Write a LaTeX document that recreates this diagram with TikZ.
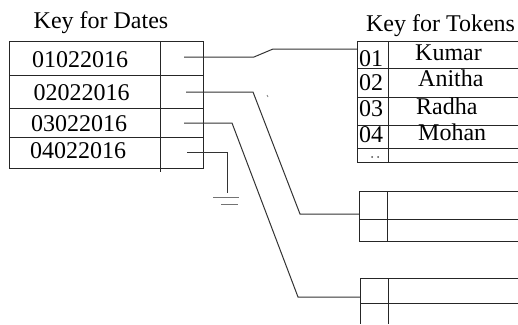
\documentclass[tikz,border=0pt]{standalone}
\usepackage{fontspec}
\setmainfont{Liberation Serif}
\begin{document}
\begin{tikzpicture}[x=1pt,y=-1pt,
  rule/.style={draw=black!85,line width=1pt},
  wire/.style={draw=black!80,line width=1pt},
  txt/.style={inner sep=0pt,anchor=base,font=\fontsize{24}{24}\selectfont},
  txtw/.style={inner sep=0pt,anchor=base west,font=\fontsize{24}{24}\selectfont}]
\useasboundingbox (0,0) rectangle (518,324);

% ---- date index table ----
\node[txt] (hd) at (101,28) {Key for Dates};
\draw[rule] (9,41) rectangle (203,168);
\draw[rule] (9,75) -- (203,75) (9,108) -- (203,108) (9,137) -- (203,137);
\draw[rule] (160,41) -- (160,172);
\node[txt] (d1) at (80,67) {01022016};
\node[txt] (d2) at (81.5,100) {02022016};
\node[txt] (d3) at (79,131) {03022016};
\node[txt] (d4) at (78,158) {04022016};
\coordinate (p1) at (184,57);
\coordinate (p2) at (186,92);
\coordinate (p3) at (184,123);
\coordinate (p4) at (187,152);

% ---- token index table ----
\node[txt] (ht) at (440.5,31) {Key for Tokens};
\draw[rule] (518,41) -- (357,41) -- (357,162) -- (518,162);
\draw[rule] (357,68) -- (518,68) (357,97) -- (518,97) (357,125) -- (518,125) (357,148) -- (518,148);
\draw[rule] (388,41) -- (388,162);
\node[txtw] (k1) at (359,66) {01};
\node[txtw] (k2) at (359,90.7) {02};
\node[txtw] (k3) at (359,116.7) {03};
\node[txtw] (k4) at (359,142.3) {04};
\node[txtw] (n1) at (415,60) {Kumar};
\node[txtw] (n2) at (418,86.7) {Anitha};
\node[txtw] (n3) at (416,114) {Radha};
\node[txtw] (n4) at (418,140) {Mohan};
\fill[black!70] (372,157) circle (1pt) (378,157) circle (1pt);
\coordinate (t1) at (357,49);

% ---- bucket blocks ----
\draw[rule] (518,191) -- (359,191) -- (359,241) -- (518,241);
\draw[rule] (359,219) -- (518,219) (387,191) -- (387,241);
\coordinate (b2) at (359,214);
\draw[rule] (518,278) -- (360,278) -- (360,324);
\draw[rule] (360,303) -- (518,303) (388,278) -- (388,324);
\coordinate (b3) at (360,297);

% ---- pointers ----
\draw[wire] (p1) -- (254,57) -- (273,49) -- (t1);
\draw[wire] (p2) -- (253,92) -- (300,214) -- (b2);
\draw[wire] (p3) -- (232,123) -- (298,297) -- (b3);
\coordinate (g) at (227,193);
\draw[wire] (p4) -- (227,152) -- (g);
\draw[draw=black!55,line width=1pt] (213,197) -- (239,197) (221,204) -- (238,204);
\draw[draw=black!50,line width=0.8pt] (267,95) -- (268,97);
\end{tikzpicture}
\end{document}
